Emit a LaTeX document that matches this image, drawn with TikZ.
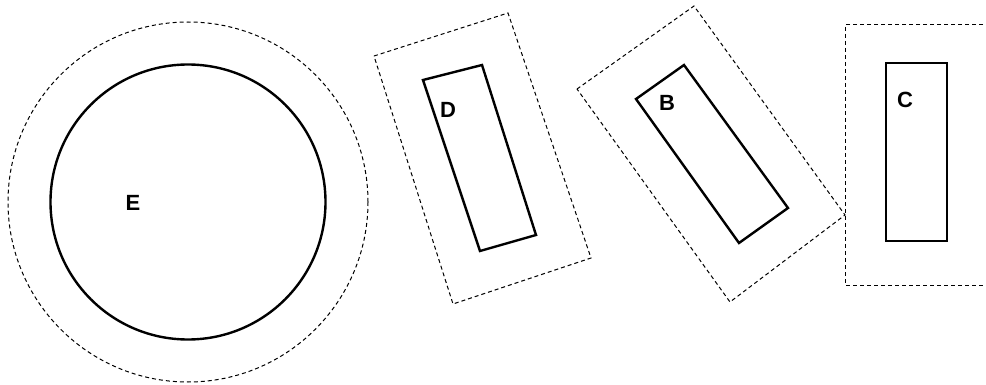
\documentclass[tikz,border=0pt]{standalone}
\usepackage{fontspec}
\setmainfont{Liberation Sans}
\begin{document}
\begin{tikzpicture}[x=1pt,y=-1pt,
  solidline/.style={line width=2.4pt,line join=miter},
  dashline/.style={line width=1pt,dash pattern=on 4pt off 3pt},
  lbl/.style={font=\fontsize{22}{22}\selectfont\bfseries,inner sep=0pt}]
\useasboundingbox (0,0) rectangle (986,385);
% E
\draw[dashline] (188,202) circle (180);
\draw[solidline] (188,202) circle (137.5);
\node[lbl] (E) at (133,203) {E};
% D
\draw[dashline] (374,56) -- (508,13) -- (591,258) -- (453,304) -- cycle;
\draw[solidline] (423,80) -- (482,65) -- (536,235) -- (480,251) -- cycle;
\node[lbl] (D) at (448,110) {D};
% B
\draw[dashline] (577,89) -- (694,6) -- (845,215) -- (730,302) -- cycle;
\draw[solidline] (636,99) -- (684,65) -- (788,208) -- (739,243) -- cycle;
\node[lbl] (B) at (667,103) {B};
% C
\draw[dashline] (990,25) -- (845,25) -- (845,285) -- (990,285);
\draw[solidline] (886,63) rectangle (947,241);
\node[lbl] (C) at (905,100) {C};
\end{tikzpicture}
\end{document}
